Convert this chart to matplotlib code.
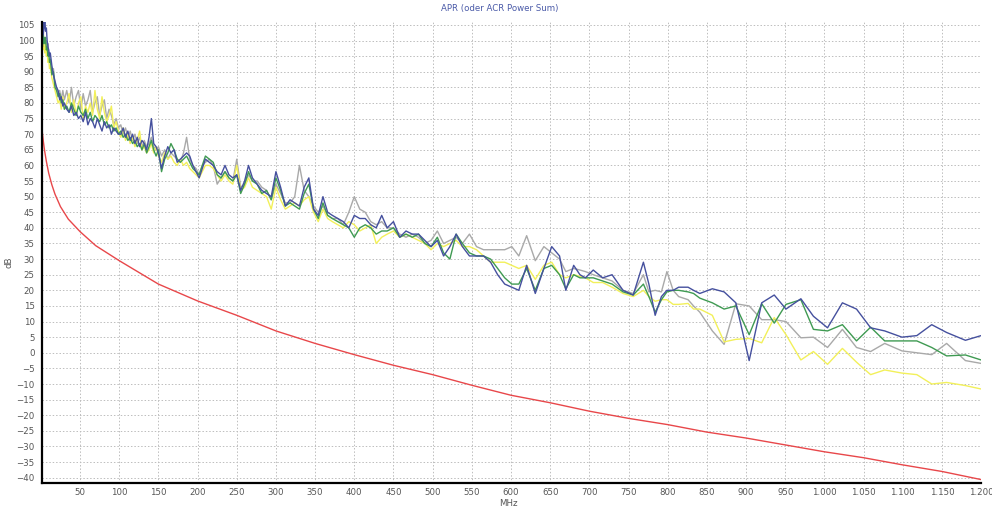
import matplotlib
matplotlib.use("Agg")
import matplotlib.pyplot as plt
from matplotlib.ticker import FixedLocator, FuncFormatter

# shared frequency grid of the four measured pairs (MHz)
freq_mhz = [
    1, 1.5, 2, 2.5, 3, 4, 5, 6, 7, 8, 9, 10, 11, 12, 14, 16, 18, 20, 22, 24, 26, 28, 30,
    33, 36, 39, 42, 45, 48, 51, 54, 57, 60, 63, 66, 69, 72, 75, 78, 81, 84, 87, 90, 93, 96, 99,
    102, 105, 108, 111, 114, 117, 120, 123, 126, 129, 132, 135, 138, 141, 144, 147, 150,
    154, 158, 162, 166, 170, 174, 178, 182, 186, 190, 194, 198, 202, 206, 210,
    215, 220, 225, 230, 235, 240, 245, 250, 255, 260, 265, 270,
    276, 282, 288, 294, 300, 306, 312, 318, 324, 330, 336, 342, 348, 354, 360, 366, 372,
    379, 386, 393, 400, 407, 414, 421, 428, 435, 442,
    450, 458, 466, 474, 482, 490, 498, 506, 514, 522, 530, 538,
    547, 556, 565, 574, 583, 592, 601, 610,
    620, 631, 642, 652, 662, 670, 680, 688, 695, 705, 717, 729, 743, 756, 769, 776, 784, 792, 799, 807, 814, 826, 833,
    841, 857, 872, 887, 904, 920, 936, 951, 970, 986, 1004, 1023, 1041, 1059, 1077, 1099, 1118, 1137, 1156, 1180, 1200,
]

blue_db = [
    99, 103, 100, 106, 102, 104, 107, 103, 104, 100, 98, 97, 95, 96, 92, 89, 87, 85, 84, 81, 82, 79, 80,
    78, 77, 79, 76, 77, 75, 76, 74, 77, 73, 75, 74, 72, 75, 73, 71, 74, 72, 73, 70, 72, 71, 70,
    70, 72, 69, 71, 68, 70, 67, 69, 66, 68, 67, 65, 69, 75, 67, 66, 64,
    59, 63, 66, 64, 65, 61, 62, 63, 64, 63, 60, 58, 56, 59, 62,
    61, 60, 58, 57, 60, 57, 56, 57, 52, 55, 60, 56,
    54, 52, 51, 50, 58, 53, 47, 49, 48, 47, 53, 56, 46, 44, 50, 45, 44,
    43, 42, 40, 44, 43, 43, 41, 40, 44, 40,
    42, 37, 39, 38, 38, 36, 34, 36, 31, 34, 38, 34,
    31, 31, 31, 29, 25, 22, 21, 20,
    28, 19, 27, 34, 31, 20, 28, 25, 24, 26.5, 24, 25, 20, 18.5, 29, 22, 12, 18, 20, 20, 21, 21, 20,
    19, 20.5, 19.5, 16, -2.5, 16, 18.5, 14, 17.3, 11.7, 8, 16, 14, 8, 7, 5, 5.5, 9, 6.5, 4, 5.5,
]

gray_db = [
    97, 101, 104, 100, 103, 99, 101, 98, 100, 97, 99, 95, 96, 93, 90, 91, 86, 85, 83, 84, 81, 84, 81,
    84, 80, 85, 79, 82, 84, 78, 83, 79, 81, 84, 77, 80, 82, 76, 79, 81, 75, 78, 76, 73, 75, 72,
    73, 70, 72, 69, 71, 68, 70, 67, 69, 66, 68, 66, 67, 69, 66, 65, 66,
    63, 65, 62, 64, 63, 62, 61, 64, 69, 62, 60, 59, 57, 60, 61,
    62, 60, 54, 56, 58, 56, 55, 62, 53, 54, 57, 55,
    55, 53, 52, 49, 54, 51, 48, 48, 50, 60, 52, 50, 47, 45, 47, 44, 43,
    43, 41, 45, 50, 46, 45, 42, 41, 42, 40,
    40, 38, 37, 38, 37, 35, 36, 39, 35, 36, 37, 35,
    38, 34, 33, 33, 33, 33, 34, 31,
    37.5, 29.5, 34, 32, 30, 26, 27, 26.5, 26, 25, 24, 23, 20, 19, 25, 19.5, 20, 19.5, 26, 20, 18, 17, 15,
    13, 7, 2.7, 15.7, 15, 10.6, 10.6, 10, 4.8, 5, 1.7, 7.5, 1.7, 0.4, 3, 0.6, 0, -0.6, 3, -2.5, -3.4,
]

green_db = [
    96, 100, 98, 102, 99, 101, 99, 101, 97, 98, 95, 96, 93, 94, 89, 90, 85, 84, 82, 83, 80, 81, 78,
    79, 77, 80, 78, 76, 79, 77, 76, 78, 75, 77, 74, 76, 75, 74, 76, 73, 74, 72, 73, 71, 72, 70,
    71, 69, 70, 68, 69, 67, 68, 66, 67, 65, 67, 64, 66, 68, 65, 63, 65,
    58, 62, 64, 67, 65, 62, 61, 62, 63, 61, 59, 58, 57, 60, 63,
    62, 61, 57, 56, 58, 56, 55, 57, 51, 54, 58, 55,
    54, 51, 52, 49, 56, 52, 47, 48, 47, 46, 51, 54, 46, 43, 48, 44, 43,
    42, 41, 40, 37, 40, 41, 40, 38, 39, 39,
    40, 37, 38, 37, 38, 35, 34, 37, 32, 30, 38, 35,
    32, 31, 31, 30, 27, 24, 22, 22,
    27, 20, 27, 28, 25, 20.5, 25, 24, 24, 24, 23, 22, 19.5, 18.5, 22, 18, 13, 17, 19.5, 20, 20, 19.5, 19,
    17.5, 16, 14, 15, 5.8, 15.7, 9.5, 15.5, 17, 7.5, 7, 9, 3.8, 8.2, 3.8, 3.8, 3.8, 1.7, -1, -0.7, -2.3,
]

yellow_db = [
    95, 98, 101, 97, 100, 98, 96, 99, 95, 97, 93, 94, 91, 92, 88, 86, 84, 82, 80, 81, 78, 82, 78,
    80, 83, 77, 81, 76, 80, 82, 75, 79, 77, 80, 76, 84, 78, 75, 82, 77, 74, 76, 79, 72, 74, 71,
    69, 72, 68, 70, 67, 69, 66, 68, 71, 65, 66, 64, 65, 67, 64, 66, 63,
    61, 64, 62, 63, 61, 60, 62, 60, 61, 59, 58, 57, 56, 58, 60,
    60, 59, 57, 55, 57, 55, 54, 60, 52, 53, 56, 53,
    52, 51, 50, 46, 53, 49, 46, 47, 48, 47, 49, 50, 45, 42, 46, 43, 42,
    41, 40, 42, 41, 39, 40, 41, 35, 37, 38,
    39, 37, 38, 37, 36, 35, 33, 35, 34, 35, 36, 34,
    34, 33, 31, 29, 29, 29, 28, 27,
    28, 23.5, 28, 29, 25, 24, 25, 24.5, 24, 22.5, 22.5, 21, 19, 18, 20, 18, 16.5, 17, 17, 15.5, 15.5, 15.8, 14,
    14, 12, 3.5, 4.3, 4.6, 3.2, 11.3, 5.8, -2.3, 0.4, -3.7, 1.4, -3, -7, -5.5, -6.5, -7, -10, -9.5, -10.5, -11.6,
]

# limit line
limit_freq = [1, 1.5, 2, 3, 4, 5, 7, 10, 14, 18, 25, 35, 50, 70, 100, 150, 200, 250, 300, 350,
              400, 450, 500, 550, 600, 650, 700, 750, 800, 850, 900, 950, 1000, 1050, 1100, 1150, 1200]
limit_db = [73, 71.5, 70.2, 68, 66, 64.3, 61.3, 57.5, 53.8, 50.8, 46.8, 42.8, 38.8, 34.3, 29.5, 22, 16.6, 12, 7, 3,
            -0.6, -4, -7, -10.4, -13.6, -16, -18.7, -21, -23, -25.4, -27.3, -29.5, -31.7, -33.6, -35.9, -38, -40.6]

x_ticks = list(range(50, 1201, 50))
y_ticks = list(range(-40, 106, 5))

fig = plt.figure(figsize=(9.92, 5.11), dpi=100)
ax = fig.add_axes([0.042, 0.0554, 0.947, 0.902])

ax.plot(freq_mhz, gray_db, color="#a9a9a9", lw=1.0)
ax.plot(freq_mhz, yellow_db, color="#f2f05a", lw=1.0)
ax.plot(freq_mhz, green_db, color="#3f9a52", lw=1.0)
ax.plot(freq_mhz, blue_db, color="#45509e", lw=1.0)
ax.plot(limit_freq, limit_db, color="#e8474a", lw=1.0)

ax.set_xlim(1, 1200)
ax.set_ylim(-41.6, 106)
ax.xaxis.set_major_locator(FixedLocator(x_ticks))
ax.yaxis.set_major_locator(FixedLocator(y_ticks))
ax.xaxis.set_major_formatter(FuncFormatter(lambda v, p: f"{int(v):,}".replace(",", ".")))
ax.grid(True, color="#bdbdbd", linestyle=(0, (1.5, 2)), linewidth=0.7)
ax.set_axisbelow(True)

for side in ("top", "right"):
    ax.spines[side].set_visible(False)
for side in ("left", "bottom"):
    ax.spines[side].set_linewidth(1.6)
    ax.spines[side].set_color("black")

ax.tick_params(axis="both", length=0, labelsize=6.2, labelcolor="#555555")
ax.tick_params(axis="x", pad=4)
ax.tick_params(axis="y", pad=5)

fig.text(508 / 992, 1 - 504 / 511, "MHz", fontsize=6.2, color="#555555", ha="center", va="center")
fig.text(9 / 992, 1 - 262 / 511, "dB", fontsize=6.2, color="#555555", ha="center", va="center", rotation=90)
fig.text(500 / 992, 1 - 9 / 511, "APR (oder ACR Power Sum)", fontsize=6.2, color="#4a5aa8",
         ha="center", va="center")

fig.savefig("out.png", dpi=100)
